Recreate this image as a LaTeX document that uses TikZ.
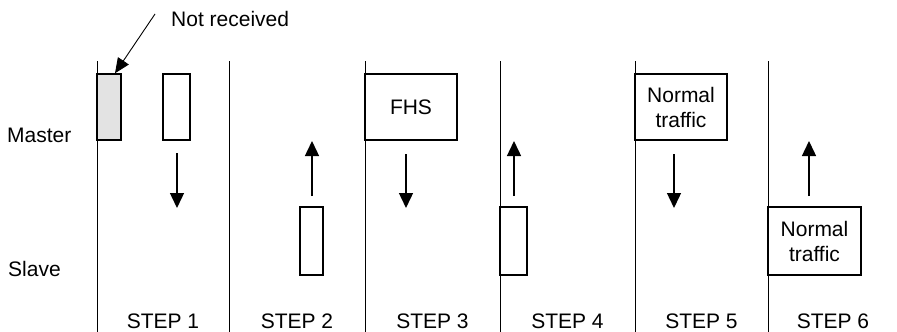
\documentclass[tikz,border=0pt]{standalone}
\usepackage{fontspec}
\setmainfont{Liberation Sans}
\usetikzlibrary{arrows.meta,positioning}
\tikzset{
  pktbox/.style  = {rectangle, draw=black, line width=1.5pt,
                    fill=#1, inner sep=0pt, minimum width=26pt,
                    minimum height=66pt},
  pktbox/.default= white,
  lostbox/.style = {pktbox=black!11, minimum width=24pt},
  bigbox/.style  = {pktbox, minimum width=92pt, align=center,
                    font=\fontsize{21}{25}\selectfont},
  lbl/.style     = {font=\fontsize{21}{25}\selectfont, inner sep=0pt},
  myarrow/.style = {-{Triangle[length=15pt,width=14pt]},
                    line width=1.4pt},
  noteline/.style= {-{Triangle[length=15pt,width=13pt]},
                    line width=0.9pt},
  divline/.style = {line width=0.9pt},
}

\begin{document}
\begin{tikzpicture}[x=1pt,y=-1pt]
  \useasboundingbox (0,0) rectangle (897,332);

  %% ---- Step dividers ----
  \foreach \xd/\nm in {97/d1,229/d2,365/d3,500/d4,635/d5,768/d6}{
    \coordinate (\nm top) at (\xd,61);
    \coordinate (\nm bot) at (\xd,332);
    \draw[divline] (\nm top) -- (\nm bot);
  }

  %% ---- Row labels ----
  \node[lbl, anchor=base west] (master) at (7,142)  {Master};
  \node[lbl, anchor=base west] (slave)  at (8,276)  {Slave};

  %% ---- Step 1 ----
  \node[lostbox] (lost) at (109,107)   {};
  \node[pktbox, minimum width=27pt] (m1) at (176.5,107) {};
  \node[lbl, anchor=base west] (note) at (171,27) {Not received};
  \coordinate (notestart) at (155,14);
  \draw[noteline] (notestart) -- (lost.north -| 115,0);
  \coordinate (a1s) at (177,153);
  \coordinate (a1e) at (177,208);
  \draw[myarrow] (a1s) -- (a1e);

  %% ---- Step 2 ----
  \node[pktbox, minimum width=23pt, minimum height=68pt]
        (s2) at (311.5,241) {};
  \coordinate (a2s) at (312,196);
  \coordinate (a2e) at (312,141);
  \draw[myarrow] (a2s) -- (a2e);

  %% ---- Step 3 ----
  \node[bigbox] (fhs) at (411,107) {FHS};
  \coordinate (a3s) at (406,154);
  \coordinate (a3e) at (406,208);
  \draw[myarrow] (a3s) -- (a3e);

  %% ---- Step 4 ----
  \node[pktbox, minimum width=27pt, minimum height=68pt]
        (s4) at (513.5,241) {};
  \coordinate (a4s) at (514,196);
  \coordinate (a4e) at (514,141);
  \draw[myarrow] (a4s) -- (a4e);

  %% ---- Step 5 ----
  \node[bigbox] (m5) at (681,107) {Normal\\traffic};
  \coordinate (a5s) at (674,154);
  \coordinate (a5e) at (674,208);
  \draw[myarrow] (a5s) -- (a5e);

  %% ---- Step 6 ----
  \node[bigbox, minimum width=93pt, minimum height=68pt]
        (s6) at (814.5,241) {Normal\\traffic};
  \coordinate (a6s) at (809,196);
  \coordinate (a6e) at (809,141);
  \draw[myarrow] (a6s) -- (a6e);

  %% ---- Step labels ----
  \foreach \xs/\n in {163/1,297/2,432.5/3,567.5/4,701.5/5,833/6}
    \node[lbl, anchor=base] (step\n) at (\xs,328) {STEP \n};

\end{tikzpicture}
\end{document}
